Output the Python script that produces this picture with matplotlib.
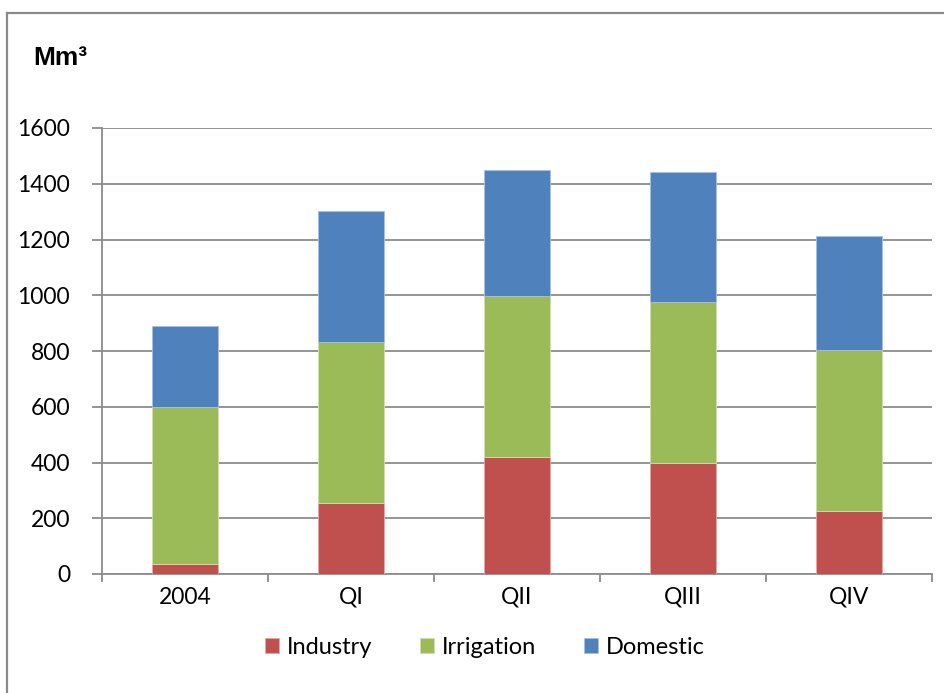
import matplotlib.pyplot as plt
from matplotlib.lines import Line2D
import numpy as np

categories = ["2004", "QI", "QII", "QIII", "QIV"]
industry = [35, 255, 419, 398, 226]
irrigation = [565, 577, 578, 578, 577]
domestic = [290, 470, 451, 466, 409]

colors = {"Industry": "#C0504D", "Irrigation": "#9BBB59", "Domestic": "#4F81BD"}
grid_col = "#8C8C8C"

plt.rcParams['font.family'] = ['Lato', 'DejaVu Sans']

fig = plt.figure(figsize=(9.44, 6.93), dpi=100)
ax = fig.add_axes([102 / 944, 1 - 574 / 693, 830 / 944, 446 / 693])

x = np.arange(len(categories))
bottom2 = np.array(industry)
bottom3 = bottom2 + np.array(irrigation)
ax.bar(x, industry, 0.4, color=colors["Industry"], edgecolor="#E6A9A7", linewidth=0.6,
       label="Industry", zorder=3)
ax.bar(x, irrigation, 0.4, bottom=bottom2, color=colors["Irrigation"], edgecolor="#CFE0AE",
       linewidth=0.6, label="Irrigation", zorder=3)
ax.bar(x, domestic, 0.4, bottom=bottom3, color=colors["Domestic"], edgecolor="#A9C1E0",
       linewidth=0.6, label="Domestic", zorder=3)

ax.set_xlim(-0.5, 4.5)
ax.set_ylim(0, 1600)
ax.set_yticks(np.arange(0, 1601, 200))
ax.yaxis.grid(True, color=grid_col, linewidth=1.3, zorder=0)
ax.set_axisbelow(True)

ax.set_xticks(x)
ax.set_xticklabels(categories)
ax.set_xticks(np.arange(-0.5, 5, 1), minor=True)
ax.tick_params(axis='x', which='major', length=0, pad=9, labelsize=16.5)
ax.tick_params(axis='x', which='minor', length=6, width=1.3, color=grid_col, direction='out')
ax.tick_params(axis='y', length=7, width=1.3, color=grid_col, direction='out', pad=16,
               labelsize=16.5)

for side in ["top", "right"]:
    ax.spines[side].set_visible(False)
for side in ["left", "bottom"]:
    ax.spines[side].set_color(grid_col)
    ax.spines[side].set_linewidth(1.3)

fig.text(33 / 944, 1 - 58 / 693, "Mm³", fontsize=19, fontweight='bold',
         family=['Liberation Sans', 'DejaVu Sans'], va='center')

ax.legend(loc='center', bbox_to_anchor=(0.4614, -0.165), ncol=3, frameon=False,
          fontsize=17, handlelength=0.6, handleheight=0.6, handletextpad=0.35,
          columnspacing=2.0)

# outer frame (only top and left edges visible in the crop)
fig.add_artist(Line2D([7 / 944, 1.0], [1 - 13 / 693, 1 - 13 / 693], color="#8A8A8A",
                      linewidth=1.6, transform=fig.transFigure))
fig.add_artist(Line2D([7 / 944, 7 / 944], [1 - 13 / 693, 0.0], color="#8A8A8A",
                      linewidth=1.6, transform=fig.transFigure))

fig.savefig("out.png", dpi=100)
